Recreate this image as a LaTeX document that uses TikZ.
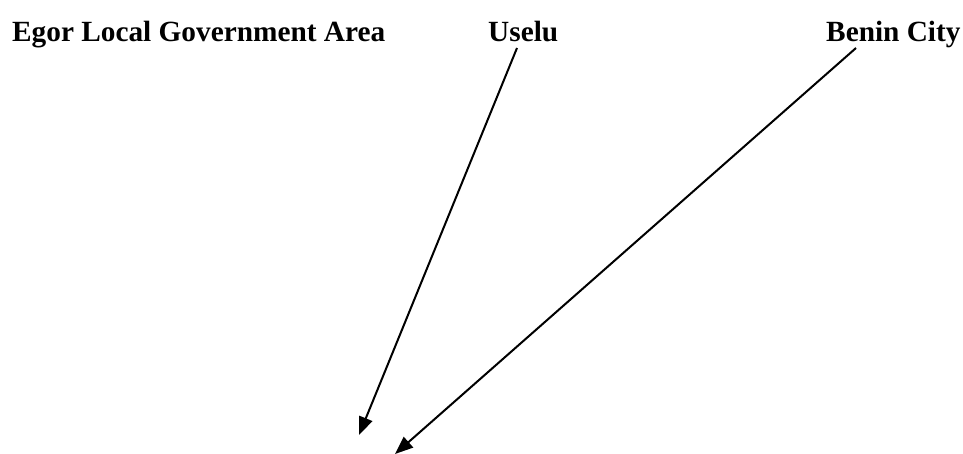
\documentclass[tikz,border=0pt]{standalone}
\usepackage{fontspec}
\setmainfont{Liberation Serif}
\usetikzlibrary{arrows.meta}
\tikzset{
	townlabel/.style={anchor=base west, inner sep=0pt, font=\bfseries\fontsize{29.3}{35}\selectfont},
	pointer/.style={line width=2pt, -{Triangle[length=18pt,width=14pt]}}
}
\newcommand{\town}[4]{\node[townlabel] (#1) at (#2,#3) {#4};}

\begin{document}
\begin{tikzpicture}[x=1pt, y=-1pt]
	\useasboundingbox (0,0) rectangle (963,454);

	\town{egor}{12}{42}{Egor Local Government Area}
	\town{uselu}{488}{42}{Uselu}
	\town{benin}{826}{42}{Benin City}

	\coordinate (uselufoot) at (517,48);
	\coordinate (beninfoot) at (856,48);
	\coordinate (tipa) at (359,435);
	\coordinate (tipb) at (395,454);

	\draw[pointer] (uselufoot) -- (tipa);
	\draw[pointer] (beninfoot) -- (tipb);
\end{tikzpicture}
\end{document}
